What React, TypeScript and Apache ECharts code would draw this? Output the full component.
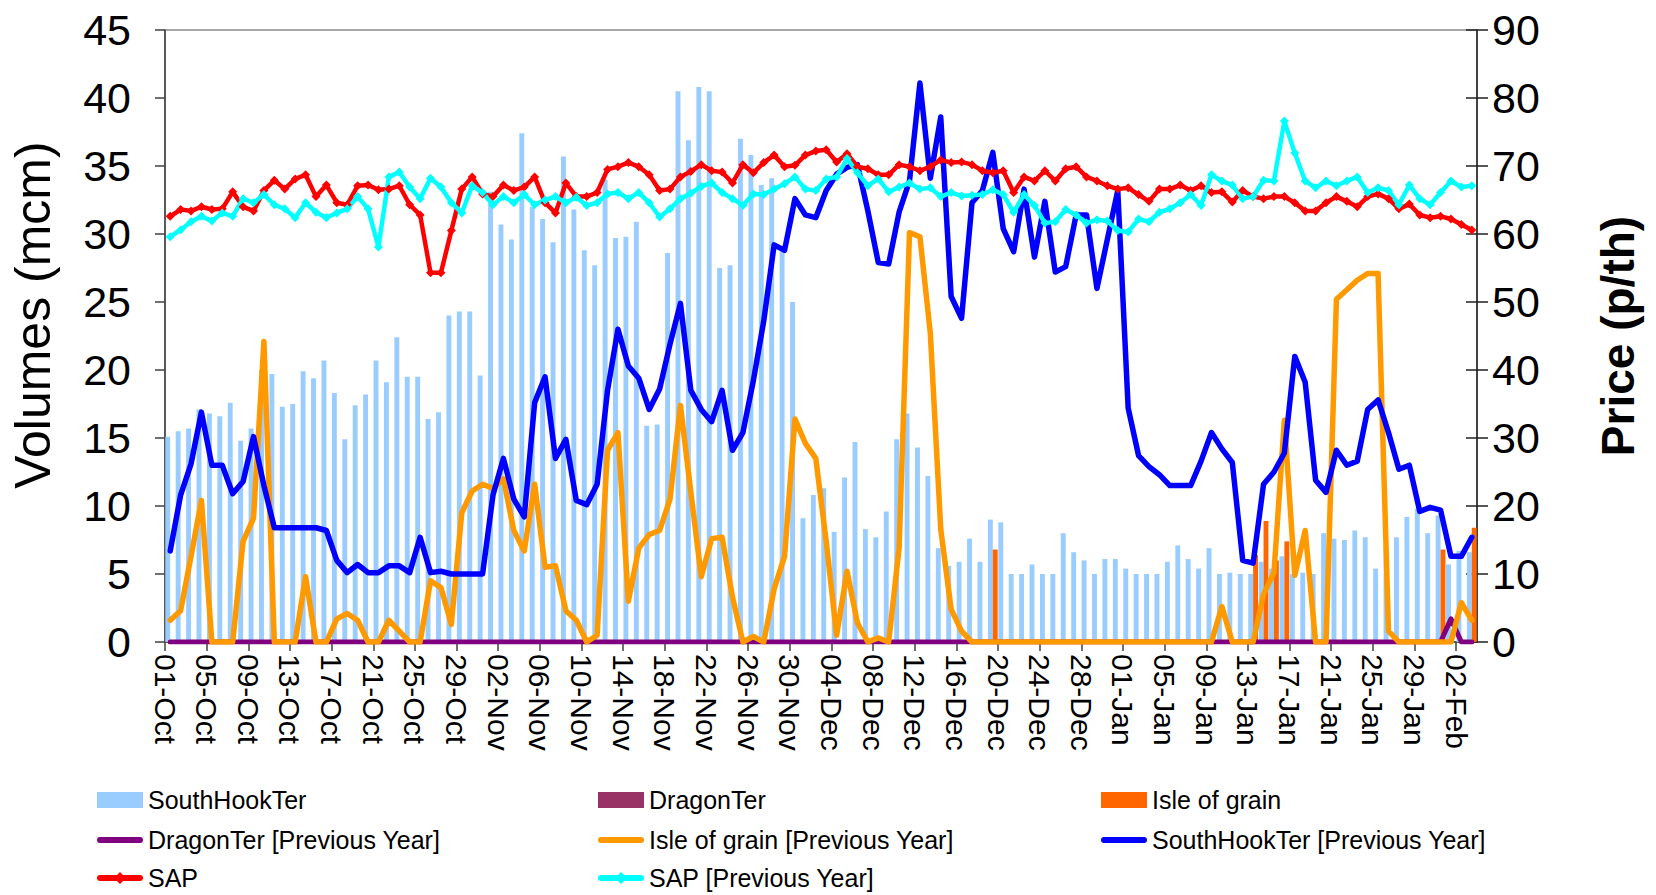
import React, { useEffect, useRef } from "react";
import * as echarts from "echarts";

// ---- categories (one per day, 01-Oct .. 03-Feb) and tick boundaries ----
const MONTHS: [string, number][] = [
  ["Oct", 31],
  ["Nov", 30],
  ["Dec", 31],
  ["Jan", 31],
  ["Feb", 4],
];
const allDates: string[] = [];
MONTHS.forEach(([m, n]) => {
  for (let i = 1; i <= n; i++) allDates.push(String(i).padStart(2, "0") + "-" + m);
});
const days = allDates.slice(0, 126);
const tickBoundaries = allDates; // 127 boundaries, labelled every 4 days

// ---- volumes (mcm) ----
const southHookTer = [
  15.1, 15.5, 15.7, 17.1, 16.8, 16.6, 17.6, 14.8, 15.7, 20.0,
  19.7, 17.3, 17.5, 19.9, 19.4, 20.7, 18.3, 14.9, 17.4, 18.2,
  20.7, 19.1, 22.4, 19.5, 19.5, 16.4, 16.9, 24.0, 24.3, 24.3,
  19.6, 33.1, 30.7, 29.6, 37.4, 32.0, 31.1, 29.4, 35.7, 31.8,
  28.8, 27.7, 34.0, 29.7, 29.8, 30.9, 15.9, 16.0, 28.6, 40.5,
  36.9, 40.8, 40.5, 27.5, 27.7, 37.0, 35.8, 33.6, 34.1, 28.7,
  25.0, 9.1, 10.8, 11.3, 8.1, 12.1, 14.7, 8.3, 7.7, 9.6,
  14.9, 16.8, 14.3, 12.2, 6.9, 5.6, 5.9, 7.6, 5.9, 9.0,
  8.8, 5.0, 5.0, 5.7, 5.0, 5.0, 8.0, 6.6, 6.0, 5.0,
  6.1, 6.1, 5.4, 5.0, 5.0, 5.0, 5.9, 7.1, 6.1, 5.4,
  6.9, 5.0, 5.1, 5.0, 5.0, 5.9, 5.4, 6.3, 5.0, 5.1,
  5.0, 8.0, 7.6, 7.5, 8.2, 7.7, 5.4, 7.0, 7.7, 9.2,
  9.8, 8.0, 9.3, 5.7, 6.7, 6.6,
];

const dragonTer = [
  0, 0, 0, 0, 0, 0, 0, 0, 0, 0,
  0, 0, 0, 0, 0, 0, 0, 0, 0, 0,
  0, 0, 0, 0, 0, 0, 0, 0, 0, 0,
  0, 0, 0, 0, 0, 0, 0, 0, 0, 0,
  0, 0, 0, 0, 0, 0, 0, 0, 0, 0,
  0, 0, 0, 0, 0, 0, 0, 0, 0, 0,
  0, 0, 0, 0, 0, 0, 0, 0, 0, 0,
  0, 0, 0, 0, 0, 0, 0, 0, 0, 0,
  0, 0, 0, 0, 0, 0, 0, 0, 0, 0,
  0, 0, 0, 0, 0, 0, 0, 0, 0, 0,
  0, 0, 0, 0, 0, 0, 0, 0, 0, 0,
  0, 0, 0, 0, 0, 0, 0, 0, 0, 0,
  0, 0, 0, 0, 0, 0,
];

const isleOfGrain = [
  0, 0, 0, 0, 0, 0, 0, 0, 0, 0,
  0, 0, 0, 0, 0, 0, 0, 0, 0, 0,
  0, 0, 0, 0, 0, 0, 0, 0, 0, 0,
  0, 0, 0, 0, 0, 0, 0, 0, 0, 0,
  0, 0, 0, 0, 0, 0, 0, 0, 0, 0,
  0, 0, 0, 0, 0, 0, 0, 0, 0, 0,
  0, 0, 0, 0, 0, 0, 0, 0, 0, 0,
  0, 0, 0, 0, 0, 0, 0, 0, 0, 6.8,
  0, 0, 0, 0, 0, 0, 0, 0, 0, 0,
  0, 0, 0, 0, 0, 0, 0, 0, 0, 0,
  0, 0, 0, 0, 6.4, 8.9, 6.0, 7.4, 0, 0,
  0, 0, 0, 0, 0, 0, 0, 0, 0, 0,
  0, 0, 6.8, 0, 0, 8.4,
];

const dragonTerPY = [
  0, 0, 0, 0, 0, 0, 0, 0, 0, 0,
  0, 0, 0, 0, 0, 0, 0, 0, 0, 0,
  0, 0, 0, 0, 0, 0, 0, 0, 0, 0,
  0, 0, 0, 0, 0, 0, 0, 0, 0, 0,
  0, 0, 0, 0, 0, 0, 0, 0, 0, 0,
  0, 0, 0, 0, 0, 0, 0, 0, 0, 0,
  0, 0, 0, 0, 0, 0, 0, 0, 0, 0,
  0, 0, 0, 0, 0, 0, 0, 0, 0, 0,
  0, 0, 0, 0, 0, 0, 0, 0, 0, 0,
  0, 0, 0, 0, 0, 0, 0, 0, 0, 0,
  0, 0, 0, 0, 0, 0, 0, 0, 0, 0,
  0, 0, 0, 0, 0, 0, 0, 0, 0, 0,
  0, 0, 0, 1.7, 0, 0,
];

const isleOfGrainPY = [
  1.6, 2.3, 6.3, 10.4, 0, 0, 0, 7.4, 9.1, 22.1,
  0, 0, 0, 4.8, 0, 0, 1.7, 2.1, 1.6, 0,
  0, 1.6, 0.8, 0, 0, 4.5, 4.0, 1.3, 9.5, 11.1,
  11.6, 11.3, 12.0, 8.2, 6.7, 11.6, 5.5, 5.6, 2.3, 1.6,
  0, 0.5, 14.1, 15.4, 3.0, 6.9, 7.9, 8.2, 10.5, 17.4,
  11.0, 4.8, 7.6, 7.7, 3.3, 0, 0.4, 0, 3.9, 6.3,
  16.4, 14.6, 13.5, 7.4, 0.5, 5.2, 1.4, 0, 0.3, 0,
  6.9, 30.1, 29.8, 22.7, 8.3, 2.4, 0.8, 0, 0, 0,
  0, 0, 0, 0, 0, 0, 0, 0, 0, 0,
  0, 0, 0, 0, 0, 0, 0, 0, 0, 0,
  0, 2.6, 0, 0, 0, 3.5, 5.1, 16.3, 4.9, 8.2,
  0, 0, 25.2, 25.9, 26.6, 27.1, 27.1, 0.8, 0, 0,
  0, 0, 0, 0, 2.9, 1.6,
];

const southHookTerPY = [
  6.7, 10.8, 13.1, 16.9, 13.0, 13.0, 10.9, 11.8, 15.1, 11.5,
  8.4, 8.4, 8.4, 8.4, 8.4, 8.2, 6.0, 5.1, 5.7, 5.1,
  5.1, 5.6, 5.6, 5.1, 7.7, 5.1, 5.2, 5.0, 5.0, 5.0,
  5.0, 10.8, 13.5, 10.5, 9.2, 17.6, 19.5, 13.5, 14.9, 10.4,
  10.1, 11.6, 18.5, 23.0, 20.3, 19.4, 17.1, 18.6, 21.9, 24.9,
  18.5, 17.1, 16.2, 18.5, 14.1, 15.4, 19.2, 23.6, 29.2, 28.8,
  32.6, 31.4, 31.2, 33.2, 34.4, 34.9, 35.1, 31.7, 27.9, 27.8,
  31.6, 33.9, 41.1, 34.1, 38.6, 25.4, 23.8, 32.3, 33.2, 36.0,
  30.4, 28.7, 33.3, 28.3, 32.4, 27.2, 27.6, 31.4, 31.4, 26.0,
  29.6, 33.2, 17.2, 13.7, 12.9, 12.3, 11.5, 11.5, 11.5, 13.3,
  15.4, 14.2, 13.2, 6.0, 5.8, 11.6, 12.5, 13.9, 21.0, 19.1,
  11.9, 11.0, 14.1, 13.0, 13.3, 17.1, 17.8, 15.4, 12.7, 13.0,
  9.6, 9.9, 9.7, 6.3, 6.3, 7.7,
];

// ---- prices (p/th) ----
const sap = [
  62.6, 63.6, 63.4, 64.0, 63.6, 63.7, 66.2, 64.0, 63.4, 66.4,
  67.9, 66.6, 68.1, 68.7, 65.5, 67.2, 64.6, 64.3, 67.1, 67.2,
  66.5, 66.6, 67.1, 64.3, 62.8, 54.3, 54.3, 60.5, 66.6, 68.4,
  65.9, 65.5, 67.2, 66.4, 66.9, 68.4, 64.6, 63.1, 67.5, 65.5,
  65.5, 66.1, 69.5, 69.9, 70.5, 69.9, 68.7, 66.4, 66.6, 68.4,
  69.2, 70.2, 69.3, 69.1, 67.5, 70.2, 69.0, 70.5, 71.6, 69.9,
  70.1, 71.6, 72.2, 72.4, 70.6, 71.8, 69.9, 69.6, 68.7, 68.7,
  70.2, 69.9, 69.3, 69.9, 70.9, 70.5, 70.6, 70.2, 69.3, 69.0,
  69.3, 66.1, 68.4, 67.8, 69.3, 67.8, 69.6, 69.9, 68.4, 67.8,
  67.1, 66.6, 66.8, 65.8, 64.8, 66.6, 66.6, 67.2, 66.4, 67.1,
  66.1, 66.2, 64.7, 66.4, 65.5, 65.2, 65.5, 65.5, 64.6, 63.4,
  63.4, 64.6, 65.5, 64.8, 64.0, 65.5, 65.9, 65.2, 63.7, 64.4,
  62.8, 62.4, 62.6, 62.2, 61.4, 60.6,
];

const sapPY = [
  59.6, 60.6, 61.8, 62.6, 61.9, 63.1, 62.6, 65.2, 64.6, 65.8,
  64.3, 63.7, 62.4, 64.6, 63.2, 62.4, 63.1, 63.7, 65.5, 63.7,
  58.1, 68.4, 69.1, 66.9, 65.2, 68.2, 66.9, 64.6, 63.1, 67.1,
  66.1, 64.3, 65.5, 64.6, 65.8, 64.3, 65.0, 65.5, 64.6, 65.4,
  64.2, 64.6, 65.9, 66.1, 65.2, 66.1, 64.6, 62.5, 63.7, 65.2,
  66.0, 67.0, 67.5, 66.1, 65.2, 64.2, 65.9, 65.8, 66.6, 67.4,
  68.4, 66.6, 66.4, 68.1, 68.4, 71.1, 69.0, 67.1, 68.1, 66.2,
  66.9, 67.5, 66.6, 66.8, 65.5, 66.1, 65.6, 65.7, 65.8, 66.5,
  65.8, 63.2, 65.8, 64.2, 61.6, 61.8, 63.6, 62.8, 61.6, 62.1,
  61.9, 60.5, 60.3, 62.2, 61.8, 63.2, 63.7, 64.6, 65.8, 64.2,
  68.7, 67.8, 67.2, 65.2, 65.5, 67.9, 67.8, 76.6, 71.9, 67.8,
  66.8, 67.8, 67.1, 67.8, 68.4, 66.1, 66.8, 66.4, 64.3, 67.2,
  65.2, 64.3, 66.1, 67.8, 66.9, 67.1,
];

const FONT = '"Liberation Sans", Arial, sans-serif';

// legend icons
const ICON_RECT = "rect";
const ICON_LINE = "path://M3,0 L43,0 A3,3 0 0 1 43,6 L3,6 A3,3 0 0 1 3,0 Z";
const ICON_SAP =
  "path://M3,7 L43,7 A3,3 0 0 1 43,13 L3,13 A3,3 0 0 1 3,7 Z M23,4 L29,10 L23,16 L17,10 Z";

export default function App() {
  const ref = useRef<HTMLDivElement>(null);

  useEffect(() => {
    if (!ref.current) return;
    const chart = echarts.init(ref.current, undefined, { renderer: "svg" });

    const lineSeries = (name: string, data: number[], color: string, width: number) => ({
      name,
      type: "line",
      data,
      xAxisIndex: 0,
      yAxisIndex: 0,
      symbol: "none",
      lineStyle: { color, width, join: "round", cap: "round" },
      itemStyle: { color },
    });

    const sapSeries = (name: string, data: number[], color: string) => ({
      name,
      type: "line",
      data,
      xAxisIndex: 0,
      yAxisIndex: 1,
      symbol: "diamond",
      symbolSize: 9,
      showSymbol: true,
      showAllSymbol: true,
      lineStyle: { color, width: 4.5, join: "round" },
      itemStyle: { color },
    });

    const legendItem = (
      name: string,
      icon: string,
      left: number,
      rowCenter: number,
      h: number
    ) => ({
      orient: "horizontal",
      left,
      top: rowCenter - 13,
      itemWidth: 46,
      itemHeight: h,
      selectedMode: false,
      textStyle: { fontSize: 25, color: "#000", fontFamily: FONT, lineHeight: 26 },
      data: [{ name, icon }],
    });

    const COLS = [92, 593, 1096];
    const ROWS = [795, 835, 873];

    const option = {
      animation: false,
      backgroundColor: "#ffffff",
      textStyle: { fontFamily: FONT },
      grid: {
        left: 165,
        right: 179,
        top: 30,
        bottom: 253,
        show: true,
        borderColor: "#8c8c8c",
        borderWidth: 1.5,
        backgroundColor: "transparent",
        containLabel: false,
      },
      legend: [
        legendItem("SouthHookTer", ICON_RECT, COLS[0], ROWS[0], 16),
        legendItem("DragonTer", ICON_RECT, COLS[1], ROWS[0], 16),
        legendItem("Isle of grain", ICON_RECT, COLS[2], ROWS[0], 16),
        legendItem("DragonTer [Previous Year]", ICON_LINE, COLS[0], ROWS[1], 6),
        legendItem("Isle of grain [Previous Year]", ICON_LINE, COLS[1], ROWS[1], 6),
        legendItem("SouthHookTer [Previous Year]", ICON_LINE, COLS[2], ROWS[1], 6),
        legendItem("SAP", ICON_SAP, COLS[0], ROWS[2], 16),
        legendItem("SAP [Previous Year]", ICON_SAP, COLS[1], ROWS[2], 16),
      ],
      xAxis: [
        {
          type: "category",
          data: days,
          boundaryGap: true,
          axisLine: { show: true, lineStyle: { color: "#404040", width: 1.5 } },
          axisTick: { show: false },
          axisLabel: { show: false },
          splitLine: { show: false },
        },
        {
          type: "category",
          data: tickBoundaries,
          boundaryGap: false,
          position: "bottom",
          axisLine: { show: false },
          axisTick: { show: true, interval: 3, length: 9, lineStyle: { color: "#404040", width: 1.5 } },
          axisLabel: {
            interval: 3,
            rotate: -90,
            fontSize: 30,
            color: "#000",
            fontFamily: FONT,
            margin: 12,
          },
          splitLine: { show: false },
        },
      ],
      yAxis: [
        {
          type: "value",
          min: 0,
          max: 45,
          interval: 5,
          position: "left",
          axisLine: { show: true, lineStyle: { color: "#404040", width: 1.5 } },
          axisTick: { show: true, length: 10, lineStyle: { color: "#404040", width: 1.5 } },
          axisLabel: { fontSize: 43, color: "#000", fontFamily: FONT, margin: 34 },
          splitLine: { show: false },
        },
        {
          type: "value",
          min: 0,
          max: 90,
          interval: 10,
          position: "right",
          axisLine: { show: true, lineStyle: { color: "#202020", width: 1.5 } },
          axisTick: { show: true, length: 11, lineStyle: { color: "#202020", width: 1.5 } },
          axisLabel: { fontSize: 43, color: "#000", fontFamily: FONT, margin: 15 },
          splitLine: { show: false },
        },
        {
          type: "value",
          min: 0,
          max: 90,
          interval: 10,
          position: "right",
          axisLine: { show: false },
          axisTick: { show: true, inside: true, length: 11, lineStyle: { color: "#202020", width: 1.5 } },
          axisLabel: { show: false },
          splitLine: { show: false },
        },
      ],
      graphic: [
        {
          type: "text",
          x: 33,
          y: 315,
          rotation: Math.PI / 2,
          style: {
            text: "Volumes (mcm)",
            fontSize: 50,
            fontFamily: FONT,
            fill: "#000",
            align: "center",
            verticalAlign: "middle",
          },
        },
        {
          type: "text",
          x: 1618,
          y: 336,
          rotation: Math.PI / 2,
          style: {
            text: "Price (p/th)",
            fontSize: 46,
            fontWeight: "bold",
            fontFamily: FONT,
            fill: "#000",
            align: "center",
            verticalAlign: "middle",
          },
        },
      ],
      series: [
        {
          name: "SouthHookTer",
          type: "bar",
          stack: "terminal",
          data: southHookTer,
          itemStyle: { color: "#99CCFF" },
          barGap: "0%",
          barCategoryGap: "6%",
        },
        {
          name: "DragonTer",
          type: "bar",
          stack: "terminal",
          data: dragonTer,
          itemStyle: { color: "#993366" },
          barGap: "0%",
          barCategoryGap: "6%",
        },
        {
          name: "Isle of grain",
          type: "bar",
          data: isleOfGrain,
          itemStyle: { color: "#FF6600" },
          barGap: "0%",
          barCategoryGap: "6%",
        },
        lineSeries("DragonTer [Previous Year]", dragonTerPY, "#800080", 5),
        lineSeries("Isle of grain [Previous Year]", isleOfGrainPY, "#FF9900", 5.5),
        lineSeries("SouthHookTer [Previous Year]", southHookTerPY, "#0000FF", 5.5),
        sapSeries("SAP", sap, "#FF0000"),
        sapSeries("SAP [Previous Year]", sapPY, "#00FFFF"),
      ],
    };

    chart.setOption(option as any);
    return () => chart.dispose();
  }, []);

  return (
    <div
      ref={ref}
      style={{ position: "fixed", left: 0, top: 0, width: 1656, height: 895, background: "#fff" }}
    />
  );
}
